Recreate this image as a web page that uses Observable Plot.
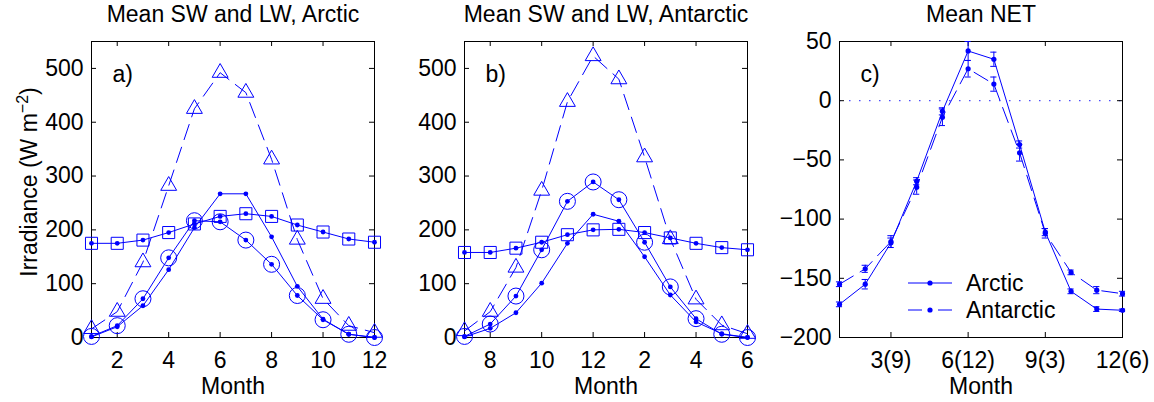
<!DOCTYPE html>
<html>
<head>
<meta charset="utf-8">
<script src="https://cdn.jsdelivr.net/npm/d3@7"></script>
<script src="https://cdn.jsdelivr.net/npm/@observablehq/plot@0.6"></script>
<style>
  html, body { margin: 0; padding: 0; background: white; }
  #wrap { position: relative; width: 1154px; height: 402px; overflow: hidden; }
  #wrap svg { position: absolute; left: 0; top: 0; }
</style>
</head>
<body>
<div id="wrap"></div>
<script>
// ---------- data ----------
const monthsA = [1, 2, 3, 4, 5, 6, 7, 8, 9, 10, 11, 12];
const aTri  = [16, 48, 140, 282, 425, 492, 455, 331, 182, 72, 22, 9];
const aCirc = [2, 22, 72, 148, 217, 215, 181, 136, 78, 33, 6, 0];
const aSq   = [175, 175, 181, 195, 211, 225, 230, 225, 209, 196, 183, 177];
const aDot  = [1, 20, 59, 126, 204, 267, 267, 187, 95, 34, 6, 0];

const monthsB = [7, 8, 9, 10, 11, 12, 1, 2, 3, 4, 5, 6];
const bTri  = [12, 48, 130, 273, 438, 523, 480, 335, 183, 71, 23, 7];
const bCirc = [2, 25, 77, 163, 253, 289, 256, 177, 94, 35, 6, 0];
const bSq   = [158, 158, 166, 177, 191, 200, 201, 195, 185, 175, 167, 163];
const bDot  = [1, 17, 46, 101, 175, 229, 216, 150, 79, 29, 7, 0];

const monthsC = [1, 2, 3, 4, 5, 6, 7, 8, 9, 10, 11, 12];
const netArctic       = [-172, -155, -120, -68, -9, 42, 35, -37, -111, -161, -176, -177];
const netArcticErr    = [2, 4, 4, 3, 3, 8, 6, 3, 3, 2, 2, 1];
const netAntarctic    = [-155, -142, -119, -73, -14, 27, 14, -44, -112, -145, -160, -163];
const netAntarcticErr = [2, 3, 5, 6, 7, 7, 6, 7, 4, 2, 3, 2];

const xTicksA = [2, 4, 6, 8, 10, 12];
const xTickLabelsB = ["8", "10", "12", "2", "4", "6"];
const xTicksC = [3, 6, 9, 12];
const xTickLabelsC = ["3(9)", "6(12)", "9(3)", "12(6)"];
const yTicksAB = [0, 100, 200, 300, 400, 500];
const yTicksC = [-200, -150, -100, -50, 0, 50];
const titles = ["Mean SW and LW, Arctic", "Mean SW and LW, Antarctic", "Mean NET"];
const letters = ["a)", "b)", "c)"];
const legendLabels = ["Arctic", "Antarctic"];

// ---------- layout ----------
const W = 1154, H = 402, TOP = 41, BOTTOM = 337;
const BLUE = "#0000ff";
const FONT = "Liberation Sans, Arial, Helvetica, sans-serif";
const FS = 23;
const wrap = document.getElementById("wrap");

function frameMarks(fw, fh, xticks, xfmt, yticks, title, letter) {
  return [
    Plot.frame({stroke: "black", strokeWidth: 1}),
    Plot.tickX(xticks, {x: d => d, insetTop: fh - 5, stroke: "black"}),
    Plot.tickX(xticks, {x: d => d, insetBottom: fh - 5, stroke: "black"}),
    Plot.tickY(yticks, {y: d => d, insetRight: fw - 5, stroke: "black"}),
    Plot.tickY(yticks, {y: d => d, insetLeft: fw - 5, stroke: "black"}),
    Plot.axisX({ticks: xticks, tickSize: 0, tickPadding: 14, tickFormat: xfmt, fontSize: FS, label: null}),
    Plot.axisY({ticks: yticks, tickSize: 0, tickPadding: 8, fontSize: FS, label: null}),
    Plot.text([title], {text: d => d, frameAnchor: "top", dy: -27, fontSize: FS, lineAnchor: "middle", fill: "black"}),
    Plot.text(["Month"], {text: d => d, frameAnchor: "bottom", dy: 49, fontSize: FS, lineAnchor: "middle", fill: "black"}),
    Plot.text([letter], {text: d => d, frameAnchor: "top-left", dx: 21, dy: 33, textAnchor: "start", fontSize: FS, lineAnchor: "middle", fill: "black"})
  ];
}

function swlwPanel(left, right, months, tri, circ, sq, dot, xfmt, title, letter) {
  const rows = months.map((m, i) => ({x: i + 1, tri: tri[i], circ: circ[i], sq: sq[i], dot: dot[i]}));
  const fw = right - left, fh = BOTTOM - TOP;
  const svg = Plot.plot({
    width: W, height: H,
    marginLeft: left, marginRight: W - right, marginTop: TOP, marginBottom: H - BOTTOM,
    style: {background: "transparent", overflow: "visible", fontFamily: FONT, fontSize: FS + "px", color: "black"},
    x: {domain: [1, 12]},
    y: {domain: [0, 550]},
    marks: [
      ...frameMarks(fw, fh, xTicksA, xfmt, yTicksAB, title, letter),
      Plot.line(rows, {x: "x", y: "tri", stroke: BLUE, strokeWidth: 1, strokeDasharray: "16,8"}),
      Plot.line(rows, {x: "x", y: "circ", stroke: BLUE, strokeWidth: 1}),
      Plot.line(rows, {x: "x", y: "sq", stroke: BLUE, strokeWidth: 1}),
      Plot.line(rows, {x: "x", y: "dot", stroke: BLUE, strokeWidth: 1}),
      Plot.dot(rows, {x: "x", y: "tri", symbol: "triangle", r: 5.9, stroke: BLUE, strokeWidth: 1, fill: "none"}),
      Plot.dot(rows, {x: "x", y: "circ", symbol: "circle", r: 8, stroke: BLUE, strokeWidth: 1, fill: "none"}),
      Plot.dot(rows, {x: "x", y: "sq", symbol: "square", r: 6.8, stroke: BLUE, strokeWidth: 1, fill: "none"}),
      Plot.dot(rows, {x: "x", y: "circ", r: 2.4, fill: BLUE, stroke: "none"}),
      Plot.dot(rows, {x: "x", y: "sq", r: 2.4, fill: BLUE, stroke: "none"}),
      Plot.dot(rows, {x: "x", y: "dot", r: 2.4, fill: BLUE, stroke: "none"})
    ]
  });
  wrap.appendChild(svg);
  return svg;
}

// Panel a
const svgA = swlwPanel(91, 374, monthsA, aTri, aCirc, aSq, aDot, d => String(d), titles[0], letters[0]);
// Panel b
const svgB = swlwPanel(464, 747, monthsB, bTri, bCirc, bSq, bDot, d => xTickLabelsB[xTicksA.indexOf(d)], titles[1], letters[1]);

// y label on panel a
{
  const t = d3.select(svgA).append("text")
    .attr("transform", "translate(37,182) rotate(-90)")
    .attr("text-anchor", "middle")
    .attr("font-family", FONT)
    .attr("font-size", FS)
    .attr("fill", "black");
  t.append("tspan").text("Irradiance (W m");
  t.append("tspan").attr("font-size", 16).attr("dy", -9).text("\u22122");
  t.append("tspan").attr("dy", 9).text(")");
}

// Panel c
{
  const left = 839, right = 1122;
  const rows = monthsC.map((m, i) => ({x: m, ar: netArctic[i], are: netArcticErr[i], an: netAntarctic[i], ane: netAntarcticErr[i]}));
  const fw = right - left, fh = BOTTOM - TOP;
  const cap = 0.12;
  const svg = Plot.plot({
    width: W, height: H,
    marginLeft: left, marginRight: W - right, marginTop: TOP, marginBottom: H - BOTTOM,
    style: {background: "transparent", overflow: "visible", fontFamily: FONT, fontSize: FS + "px", color: "black"},
    x: {domain: [1, 12]},
    y: {domain: [-200, 50]},
    marks: [
      Plot.ruleY([0], {stroke: BLUE, strokeWidth: 1.3, strokeDasharray: "1.5,8.5", strokeOpacity: 0.7}),
      ...frameMarks(fw, fh, xTicksC, d => xTickLabelsC[xTicksC.indexOf(d)], yTicksC, titles[2], letters[2]),
      // error bars
      Plot.ruleX(rows, {x: "x", y1: d => d.ar - d.are, y2: d => d.ar + d.are, stroke: BLUE, strokeWidth: 1}),
      Plot.ruleY(rows, {y: d => d.ar - d.are, x1: d => d.x - cap, x2: d => d.x + cap, stroke: BLUE, strokeWidth: 1}),
      Plot.ruleY(rows, {y: d => d.ar + d.are, x1: d => d.x - cap, x2: d => d.x + cap, stroke: BLUE, strokeWidth: 1}),
      Plot.ruleX(rows, {x: "x", y1: d => d.an - d.ane, y2: d => d.an + d.ane, stroke: BLUE, strokeWidth: 1}),
      Plot.ruleY(rows, {y: d => d.an - d.ane, x1: d => d.x - cap, x2: d => d.x + cap, stroke: BLUE, strokeWidth: 1}),
      Plot.ruleY(rows, {y: d => d.an + d.ane, x1: d => d.x - cap, x2: d => d.x + cap, stroke: BLUE, strokeWidth: 1}),
      Plot.line(rows, {x: "x", y: "ar", stroke: BLUE, strokeWidth: 1}),
      Plot.line(rows, {x: "x", y: "an", stroke: BLUE, strokeWidth: 1, strokeDasharray: "16,8"}),
      Plot.dot(rows, {x: "x", y: "ar", r: 2.6, fill: BLUE, stroke: "none"}),
      Plot.dot(rows, {x: "x", y: "an", r: 2.6, fill: BLUE, stroke: "none"})
    ]
  });
  wrap.appendChild(svg);
  // legend (no box)
  const g = d3.select(svg).append("g")
    .attr("font-family", FONT).attr("font-size", FS).attr("text-anchor", "start");
  const ly = [283, 310];
  const dash = [null, "14,16"];
  legendLabels.forEach((lab, i) => {
    g.append("line").attr("x1", 908).attr("x2", 952).attr("y1", ly[i]).attr("y2", ly[i])
      .attr("stroke", BLUE).attr("stroke-width", 1).attr("stroke-dasharray", dash[i]);
    g.append("circle").attr("cx", 930).attr("cy", ly[i]).attr("r", 2.6).attr("fill", BLUE);
    g.append("text").attr("x", 966).attr("y", ly[i] + 8).attr("text-anchor", "start")
      .attr("fill", "black").text(lab);
  });
}
</script>
</body>
</html>
